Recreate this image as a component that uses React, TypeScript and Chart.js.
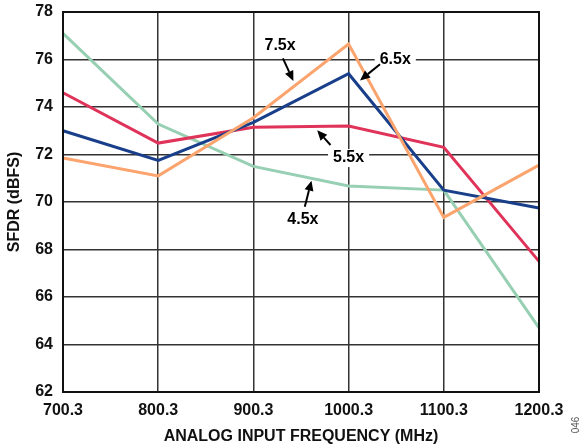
import React, { useEffect, useRef } from "react";
import { Chart, registerables } from "chart.js";

Chart.register(...registerables);

const frequencies = ["700.3", "800.3", "900.3", "1000.3", "1100.3", "1200.3"];
const sfdr45 = [77.1, 73.28, 71.5, 70.67, 70.5, 64.7];
const sfdr55 = [74.6, 72.48, 73.15, 73.2, 72.3, 67.5];
const sfdr65 = [73.0, 71.75, 73.35, 75.4, 70.5, 69.75];
const sfdr75 = [71.85, 71.1, 73.55, 76.65, 69.35, 71.55];
const yTicks = [62, 64, 66, 68, 70, 72, 74, 76, 78];

// annotation: label, label position (category index, value), arrow tail, arrow head
const annotations = [
  { text: "7.5x", lx: 2.28, ly: 76.6, tx: 2.31, ty: 76.05, hx: 2.42, hy: 75.1 },
  { text: "6.5x", lx: 3.49, ly: 75.98, tx: 3.33, ty: 75.8, hx: 3.12, hy: 75.12 },
  { text: "5.5x", lx: 3.0, ly: 71.85, tx: 2.81, ty: 72.4, hx: 2.67, hy: 73.02 },
  { text: "4.5x", lx: 2.52, ly: 69.24, tx: 2.54, ty: 69.8, hx: 2.61, hy: 70.9 },
];

const FONT = "'Liberation Sans', Arial, sans-serif";

const overlayPlugin = {
  id: "overlay",
  afterDatasetsDraw(chart: any) {
    const ctx = chart.ctx;
    const xs = chart.scales.x;
    const ys = chart.scales.y;
    const ca = chart.chartArea;
    const px = (i: number) => xs.getPixelForValue(i);
    const py = (v: number) => ys.getPixelForValue(v);
    ctx.save();
    // frame
    ctx.strokeStyle = "#111";
    ctx.lineWidth = 2;
    ctx.strokeRect(ca.left, ca.top, ca.right - ca.left, ca.bottom - ca.top);
    ctx.font = `bold 16px ${FONT}`;
    ctx.textAlign = "center";
    ctx.textBaseline = "middle";
    for (const a of annotations) {
      const x = px(a.lx);
      const y = py(a.ly);
      const w = ctx.measureText(a.text).width + 10;
      ctx.fillStyle = "#fff";
      ctx.fillRect(x - w / 2, y - 9, w, 18);
      ctx.fillStyle = "#000";
      ctx.fillText(a.text, x, y);
      // arrow
      const x1 = px(a.tx), y1 = py(a.ty), x2 = px(a.hx), y2 = py(a.hy);
      const ang = Math.atan2(y2 - y1, x2 - x1);
      const hl = 10, hw = 4.5;
      const bx = x2 - hl * Math.cos(ang), by = y2 - hl * Math.sin(ang);
      ctx.strokeStyle = "#000";
      ctx.lineWidth = 2;
      ctx.beginPath();
      ctx.moveTo(x1, y1);
      ctx.lineTo(bx, by);
      ctx.stroke();
      ctx.beginPath();
      ctx.moveTo(x2, y2);
      ctx.lineTo(bx + hw * Math.sin(ang), by - hw * Math.cos(ang));
      ctx.lineTo(bx - hw * Math.sin(ang), by + hw * Math.cos(ang));
      ctx.closePath();
      ctx.fill();
    }
    // figure code
    ctx.translate(576, 425);
    ctx.rotate(-Math.PI / 2);
    ctx.font = `10px ${FONT}`;
    ctx.fillStyle = "#555";
    ctx.fillText("046", 0, 0);
    ctx.restore();
  },
};

export default function App() {
  const ref = useRef<HTMLCanvasElement>(null);
  useEffect(() => {
    const mk = (label: string, data: number[], color: string) => ({
      label,
      data,
      borderColor: color,
      backgroundColor: color,
      borderWidth: 3,
      pointRadius: 0,
      tension: 0,
      fill: false,
    });
    const chart = new Chart(ref.current as HTMLCanvasElement, {
      type: "line",
      data: {
        labels: frequencies,
        datasets: [
          mk("7.5x", sfdr75, "#fba46e"),
          mk("6.5x", sfdr65, "#193f8b"),
          mk("5.5x", sfdr55, "#e0335a"),
          mk("4.5x", sfdr45, "#97cfb3"),
        ],
      },
      options: {
        animation: false,
        responsive: false,
        devicePixelRatio: 1,
        layout: { autoPadding: false, padding: { left: 0, right: 44, top: 12, bottom: 0 } },
        plugins: { legend: { display: false }, tooltip: { enabled: false } },
        scales: {
          x: {
            type: "category",
            offset: false,
            grid: { color: "#333", lineWidth: 1.5, drawTicks: false },
            border: { color: "#111", width: 2 },
            ticks: {
              color: "#111",
              font: { family: FONT, size: 16, weight: "bold" },
              padding: 9,
              maxRotation: 0,
              autoSkip: false,
            },
            title: {
              display: true,
              text: "ANALOG INPUT FREQUENCY (MHz)",
              color: "#111",
              font: { family: FONT, size: 16, weight: "bold" },
              padding: { top: 0, bottom: 0 },
            },
            afterFit: (s: any) => {
              s.height = 54;
              s.paddingLeft = 0;
              s.paddingRight = 0;
            },
          },
          y: {
            min: 62,
            max: 78,
            afterBuildTicks: (s: any) => {
              s.ticks = yTicks.map((v) => ({ value: v }));
            },
            grid: { color: "#333", lineWidth: 1.5, drawTicks: false },
            border: { color: "#111", width: 2 },
            ticks: {
              color: "#111",
              font: { family: FONT, size: 16, weight: "bold" },
              padding: 10,
            },
            title: {
              display: true,
              text: "SFDR (dBFS)",
              color: "#111",
              font: { family: FONT, size: 16, weight: "bold" },
              padding: { top: 5, bottom: 0 },
            },
            afterFit: (s: any) => {
              s.width = 63;
              s.paddingTop = 0;
              s.paddingBottom = 0;
            },
          },
        },
      },
      plugins: [overlayPlugin],
    });
    return () => chart.destroy();
  }, []);
  return (
    <div style={{ position: "fixed", left: 0, top: 0, width: 583, height: 446, background: "#fff" }}>
      <canvas ref={ref} width={583} height={446} style={{ display: "block" }} />
    </div>
  );
}
